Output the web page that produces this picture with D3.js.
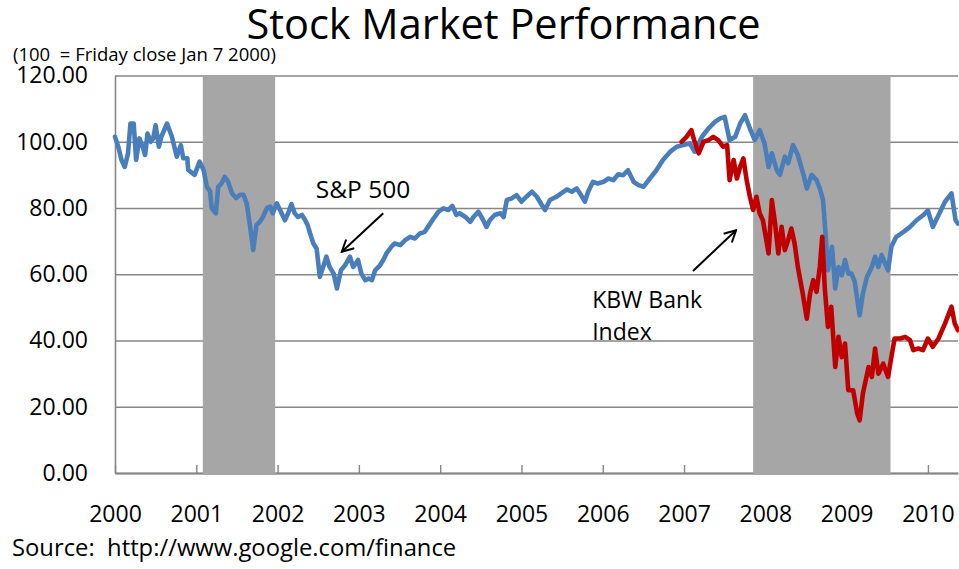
<!DOCTYPE html>
<html>
<head>
<meta charset="utf-8">
<script src="https://cdn.jsdelivr.net/npm/d3@7/dist/d3.min.js"></script>
<style>
	body { margin: 0; background: #fff; }
	svg { display: block; font-family: "Open Sans", sans-serif; }
	text { white-space: pre; }
</style>
</head>
<body>
<svg width="959" height="569"></svg>
<script>
// dates are decimal years
const years = [2000, 2001, 2002, 2003, 2004, 2005, 2006, 2007, 2008, 2009, 2010];
const yTicks = [0, 20, 40, 60, 80, 100, 120];

const spDates = [
	2000.00, 2000.04, 2000.08, 2000.12, 2000.16, 2000.19, 2000.23, 2000.26, 2000.30, 2000.34,
	2000.37, 2000.40, 2000.44, 2000.47, 2000.50, 2000.54, 2000.57, 2000.64, 2000.70, 2000.76,
	2000.81, 2000.84, 2000.89, 2000.90, 2000.98, 2001.04, 2001.09, 2001.13, 2001.17, 2001.19,
	2001.24, 2001.27, 2001.31, 2001.35, 2001.39, 2001.44, 2001.49, 2001.54, 2001.58, 2001.62,
	2001.66, 2001.70, 2001.74, 2001.78, 2001.82, 2001.87, 2001.91, 2001.94, 2001.99, 2002.03,
	2002.09, 2002.13, 2002.17, 2002.21, 2002.25, 2002.30, 2002.34, 2002.37, 2002.40, 2002.44,
	2002.48, 2002.52, 2002.56, 2002.60, 2002.64, 2002.69, 2002.73, 2002.78, 2002.83, 2002.89,
	2002.93, 2002.99, 2003.03, 2003.08, 2003.12, 2003.16, 2003.20, 2003.26, 2003.30, 2003.34,
	2003.40, 2003.44, 2003.51, 2003.57, 2003.63, 2003.69, 2003.75, 2003.81, 2003.85, 2003.92,
	2003.98, 2004.04, 2004.10, 2004.15, 2004.20, 2004.24, 2004.31, 2004.37, 2004.41, 2004.47,
	2004.53, 2004.57, 2004.61, 2004.67, 2004.74, 2004.78, 2004.82, 2004.88, 2004.94, 2005.00,
	2005.06, 2005.13, 2005.19, 2005.25, 2005.29, 2005.35, 2005.43, 2005.49, 2005.56, 2005.62,
	2005.68, 2005.72, 2005.78, 2005.82, 2005.88, 2005.94, 2006.01, 2006.07, 2006.13, 2006.19,
	2006.25, 2006.31, 2006.38, 2006.44, 2006.50, 2006.58, 2006.66, 2006.74, 2006.83, 2006.91,
	2006.99, 2007.07, 2007.13, 2007.22, 2007.30, 2007.38, 2007.44, 2007.50, 2007.56, 2007.63,
	2007.69, 2007.75, 2007.81, 2007.87, 2007.93, 2007.99, 2008.04, 2008.08, 2008.14, 2008.18,
	2008.24, 2008.28, 2008.34, 2008.40, 2008.47, 2008.51, 2008.57, 2008.63, 2008.67, 2008.71,
	2008.74, 2008.77, 2008.82, 2008.86, 2008.90, 2008.94, 2008.98, 2009.02, 2009.06, 2009.10,
	2009.16, 2009.20, 2009.25, 2009.31, 2009.35, 2009.39, 2009.43, 2009.51, 2009.55, 2009.61,
	2009.70, 2009.78, 2009.86, 2009.94, 2010.00, 2010.06, 2010.13, 2010.21, 2010.29, 2010.34,
	2010.37
];
const spValues = [
	101.5, 98.5, 94.5, 92.4, 96.5, 105.5, 105.5, 94.5, 101, 98.5,
	96, 102.5, 100, 101, 105, 98.5, 101.5, 105.5, 101.5, 95.5,
	99, 95, 95, 91.5, 90, 94, 91.5, 86.4, 85, 80,
	78.4, 86.4, 87.4, 89.4, 88, 84.4, 83, 84, 84, 81.4,
	74.8, 67.3, 74.8, 75.8, 77.3, 80, 80.4, 78.4, 81.4, 79.4,
	76.3, 78.4, 81.2, 78.4, 77.3, 77.9, 76.3, 74.8, 72.3, 69.3,
	67.8, 59.2, 62.2, 65.3, 62.2, 60.2, 55.7, 61.2, 62.7, 65.3,
	62.2, 64.3, 60.2, 58.2, 58.7, 58.2, 61.2, 62.7, 64.3, 66.3,
	68.3, 69.3, 68.8, 70.3, 71.3, 70.8, 72.3, 72.8, 74.3, 76.9,
	78.9, 79.9, 79.4, 80.6, 77.9, 78.4, 77.3, 75.8, 77.3, 78.9,
	76.3, 74.3, 76.3, 77.9, 78.4, 77.3, 82.4, 82.9, 83.9, 81.9,
	83.4, 84.9, 83.4, 80.9, 79.4, 82.4, 83.4, 84.4, 85.6, 84.9,
	85.9, 84.4, 81.9, 84.9, 87.9, 87.4, 87.9, 88.9, 88.4, 90.2,
	89.9, 91.4, 87.9, 86.9, 86.4, 88.9, 91.4, 94.5, 97, 98.5,
	99, 99.5, 97, 101.5, 104, 106, 107, 107.5, 100.5, 101.5,
	105.5, 108, 104, 100.5, 103.5, 99.5, 92.4, 96.5, 91.4, 90,
	95.5, 93.5, 99, 96, 90, 85.9, 90, 88.4, 85.9, 82.4,
	72.3, 61.2, 68.3, 55.7, 62.2, 59.7, 64.3, 60.2, 60.2, 57.7,
	47.6, 54.2, 59.2, 62.2, 65.3, 62.2, 65.8, 61.2, 68.3, 71.3,
	72.8, 74.3, 76.3, 77.8, 79.3, 74.3, 77.8, 81.9, 84.4, 76.3,
	75.3
];

const kbwDates = [
	2006.97, 2007.03, 2007.09, 2007.13, 2007.18, 2007.24, 2007.30, 2007.36, 2007.42, 2007.48,
	2007.53, 2007.56, 2007.61, 2007.65, 2007.69, 2007.73, 2007.77, 2007.81, 2007.85, 2007.89,
	2007.93, 2007.97, 2008.04, 2008.08, 2008.12, 2008.16, 2008.20, 2008.24, 2008.28, 2008.32,
	2008.36, 2008.40, 2008.46, 2008.51, 2008.55, 2008.59, 2008.63, 2008.67, 2008.70, 2008.73,
	2008.77, 2008.81, 2008.86, 2008.90, 2008.94, 2008.98, 2009.02, 2009.08, 2009.13, 2009.16,
	2009.20, 2009.27, 2009.31, 2009.35, 2009.39, 2009.45, 2009.51, 2009.55, 2009.59, 2009.66,
	2009.72, 2009.78, 2009.82, 2009.88, 2009.94, 2010.00, 2010.06, 2010.13, 2010.21, 2010.29,
	2010.33, 2010.37
];
const kbwValues = [
	100, 101.5, 103.5, 100, 96.5, 100, 100.5, 101.5, 100.5, 98.5,
	99, 88.4, 94.5, 88.9, 92.4, 95, 88.4, 83.4, 79.4, 83.4,
	78.4, 76.3, 66.3, 82.4, 75.3, 66.3, 74.3, 67.3, 70.3, 73.8,
	69.3, 62.2, 54.2, 46.6, 54.2, 58.2, 54.7, 62.2, 71.3, 56.2,
	44.1, 50.2, 32, 41.1, 35, 39.1, 25, 25, 18, 15.9,
	24, 32, 29, 37.6, 30, 33, 29, 35, 40.6, 40.6,
	41.1, 40.1, 37.1, 37.6, 37.1, 40.6, 38.1, 40.6, 45.1, 50.2,
	45.1, 43.1
];

// shaded recession periods [start, end]
const recessions = [[2001.08, 2001.97], [2007.85, 2009.54]];

const notes = [
	{ label: ["S&P 500"], size: 24.5, at: [2002.47, 83.1], from: [2003.30, 78.4], to: [2002.79, 66.8] },
	{ label: ["KBW Bank", "Index"], size: 23, at: [2005.87, 49.8], from: [2007.11, 61.0], to: [2007.64, 73.3] }
];

class Chart {
	constructor() {
		this.svg = d3.select("svg");
		this.margin = { top: 75.5, right: 1, bottom: 96, left: 115 };
		this.width = 959 - this.margin.left - this.margin.right;
		this.height = 569 - this.margin.top - this.margin.bottom;
		this.draw();
	}

	draw() {
		const x = d3.scaleLinear([2000, 2010.37], [0, this.width]);
		const y = d3.scaleLinear([0, 120], [this.height, 0]);
		const grey = "#868686";

		this.svg.append("text")
			.attr("x", 503.5)
			.attr("y", 39)
			.attr("text-anchor", "middle")
			.attr("font-size", 41.5)
			.text("Stock Market Performance");

		this.svg.append("text")
			.attr("x", 13)
			.attr("y", 61)
			.attr("font-size", 18.5)
			.text("(100  = Friday close Jan 7 2000)");

		this.svg.append("text")
			.attr("x", 12)
			.attr("y", 556)
			.attr("font-size", 23.8)
			.text("Source:  http://www.google.com/finance");

		const g = this.svg.append("g")
			.attr("transform", `translate(${this.margin.left},${this.margin.top})`);

		// y axis with gridlines
		const gY = g.append("g")
			.call(d3.axisLeft(y)
				.tickValues(yTicks)
				.tickFormat(d3.format(".2f"))
				.tickSizeInner(-this.width)
				.tickSizeOuter(0)
				.tickPadding(27));
		gY.selectAll("line").attr("stroke", grey).attr("stroke-width", 1.4);
		gY.select(".domain").attr("stroke", grey).attr("stroke-width", 1.6);
		gY.selectAll("text").attr("font-size", 23).attr("fill", "#000")
			.attr("font-family", "Open Sans");

		// x axis, ticks pointing up into the plot
		const gX = g.append("g")
			.attr("transform", `translate(0,${this.height})`)
			.call(d3.axisBottom(x)
				.tickValues(years)
				.tickFormat(d3.format("d"))
				.tickSizeInner(-8)
				.tickSizeOuter(0));
		gX.selectAll("line").attr("stroke", grey).attr("stroke-width", 1.4);
		gX.select(".domain").attr("stroke", grey).attr("stroke-width", 1.8);
		gX.selectAll("text")
			.attr("y", 33)
			.attr("font-size", 23)
			.attr("fill", "#000")
			.attr("font-family", "Open Sans");

		g.append("g")
			.attr("fill", "#a6a6a6")
			.selectAll("rect")
			.data(recessions)
			.join("rect")
			.attr("x", d => x(d[0]))
			.attr("y", 0)
			.attr("width", d => x(d[1]) - x(d[0]))
			.attr("height", this.height + 2);

		const line = d3.line()
			.x(d => x(d[0]))
			.y(d => y(d[1]));

		const series = [
			[d3.zip(spDates, spValues), "#4a7ebb"],
			[d3.zip(kbwDates, kbwValues), "#c00000"]
		];

		series.forEach(([data, color]) => {
			g.append("path")
				.attr("fill", "none")
				.attr("stroke", color)
				.attr("stroke-width", 4.6)
				.attr("stroke-linejoin", "round")
				.attr("stroke-linecap", "round")
				.attr("d", line(data));
		});

		// annotations
		this.svg.append("defs")
			.append("marker")
			.attr("id", "head")
			.attr("viewBox", "0 0 14 14")
			.attr("refX", 12.5)
			.attr("refY", 7)
			.attr("markerWidth", 14)
			.attr("markerHeight", 14)
			.attr("markerUnits", "userSpaceOnUse")
			.attr("orient", "auto")
			.append("path")
			.attr("d", "M1,1 L12.5,7 L1,13")
			.attr("fill", "none")
			.attr("stroke", "#000")
			.attr("stroke-width", 2);

		notes.forEach(n => {
			g.append("line")
				.attr("x1", x(n.from[0]))
				.attr("y1", y(n.from[1]))
				.attr("x2", x(n.to[0]))
				.attr("y2", y(n.to[1]))
				.attr("stroke", "#000")
				.attr("stroke-width", 2)
				.attr("marker-end", "url(#head)");

			g.append("text")
				.attr("font-size", n.size)
				.selectAll("tspan")
				.data(n.label)
				.join("tspan")
				.attr("x", x(n.at[0]))
				.attr("y", (d, i) => y(n.at[1]) + i * 32)
				.text(d => d);
		});
	}
}

new Chart();
</script>
</body>
</html>
